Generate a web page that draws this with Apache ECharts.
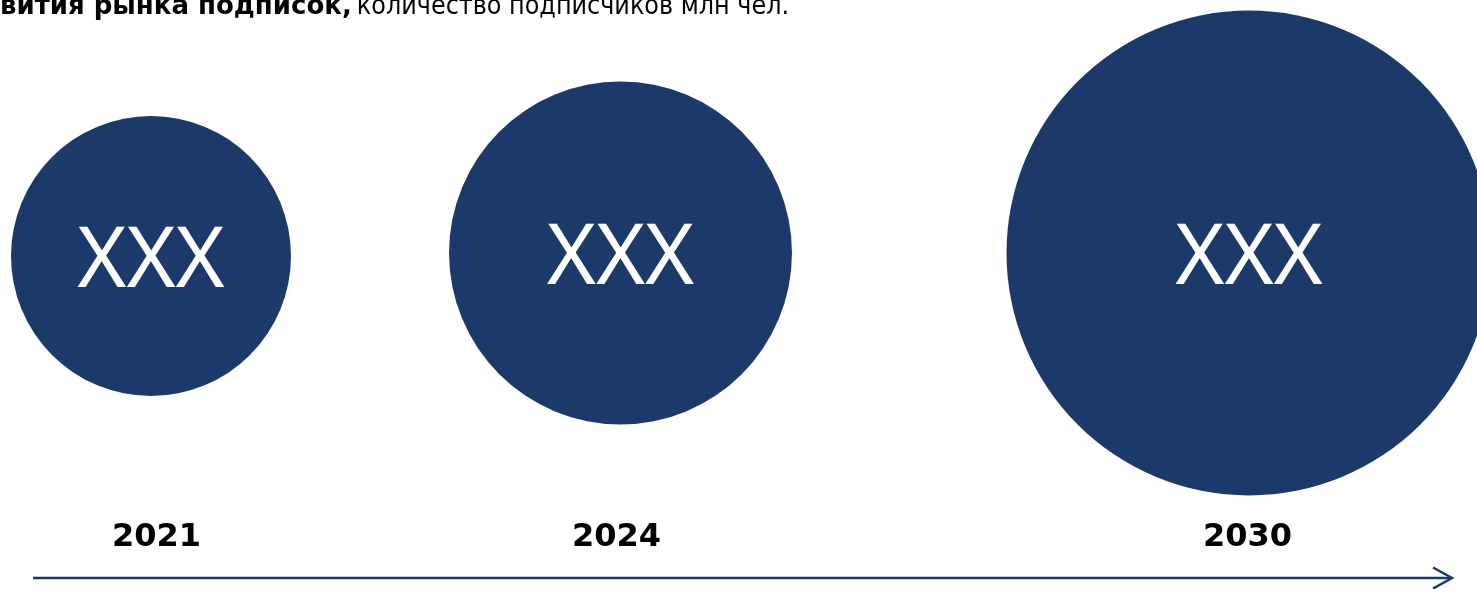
<!DOCTYPE html>
<html>
<head>
<meta charset="utf-8">
<script src="https://cdn.jsdelivr.net/npm/echarts@6/dist/echarts.min.js"></script>
<style>
  html, body { margin: 0; padding: 0; background: #fff; }
  #chart { width: 1477px; height: 589px; }
</style>
</head>
<body>
<div id="chart"></div>
<script>
// Subscription market forecast: years and relative number of subscribers
const years = ['2021', '2024', '2030'];
const subscribers = [1, 1.5, 3];          // relative size (bubble area)
const valueLabels = ['XXX', 'XXX', 'XXX'];

const NAVY = '#1b3a6a';
const BASE_DIAMETER = 280;                 // bubble diameter for value 1

// horizontal slot of each year on the timeline and vertical centre of its bubble
const slots = [
  { cx: 151,   cy: 256, labelShift: 5.5 },
  { cx: 620.5, cy: 253, labelShift: -4 },
  { cx: 1249,  cy: 253, labelShift: -1.5 }
];
const AXIS_Y = 496;

const grids = [], xAxes = [], yAxes = [], series = [];
slots.forEach((s, i) => {
  const top = 2 * s.cy - AXIS_Y;
  grids.push({
    left: s.cx - 100, width: 200, top: top, height: AXIS_Y - top,
    outerBoundsMode: 'none', containLabel: false
  });
  const pad = s.labelShift >= 0 ? [0, 0, 0, 2 * s.labelShift] : [0, -2 * s.labelShift, 0, 0];
  xAxes.push({
    type: 'category', gridIndex: i, data: [years[i]], boundaryGap: true,
    axisLine: { show: false }, axisTick: { show: false }, splitLine: { show: false },
    axisLabel: {
      margin: 26, padding: pad, color: '#000',
      fontFamily: 'DejaVu Sans', fontWeight: 'bold', fontSize: 32
    }
  });
  yAxes.push({ type: 'value', gridIndex: i, min: -1, max: 1, show: false });
  series.push({
    type: 'scatter', xAxisIndex: i, yAxisIndex: i, clip: false,
    data: [[years[i], 0]],
    symbol: 'circle',
    symbolSize: BASE_DIAMETER * Math.sqrt(subscribers[i]),
    itemStyle: { color: NAVY, opacity: 1 },
    label: {
      show: true, position: 'inside', offset: [0, 7],
      formatter: () => valueLabels[i],
      color: '#fff', fontFamily: 'Noto Sans', fontSize: 84
    }
  });
});

const chart = echarts.init(document.getElementById('chart'), null, { renderer: 'canvas' });
chart.setOption({
  animation: false,
  backgroundColor: '#fff',
  title: {
    left: 0, top: -6, padding: 0,
    text: '{b|вития рынка подписок,} {r|количество подписчиков млн чел.}',
    textStyle: {
      rich: {
        b: { fontFamily: 'DejaVu Sans', fontWeight: 'bold', fontSize: 26, color: '#000' },
        r: { fontFamily: 'DejaVu Sans Condensed', fontWeight: 'normal', fontSize: 26.6, color: '#000' }
      }
    }
  },
  grid: grids,
  xAxis: xAxes,
  yAxis: yAxes,
  series: series,
  // timeline arrow under the years
  graphic: [
    { type: 'line', silent: true,
      shape: { x1: 33, y1: 578, x2: 1451, y2: 578 },
      style: { stroke: NAVY, lineWidth: 2.5 } },
    { type: 'polyline', silent: true,
      shape: { points: [[1433, 567.5], [1452, 578], [1433, 588.5]] },
      style: { stroke: NAVY, lineWidth: 2.5, fill: null } }
  ]
});
</script>
</body>
</html>
